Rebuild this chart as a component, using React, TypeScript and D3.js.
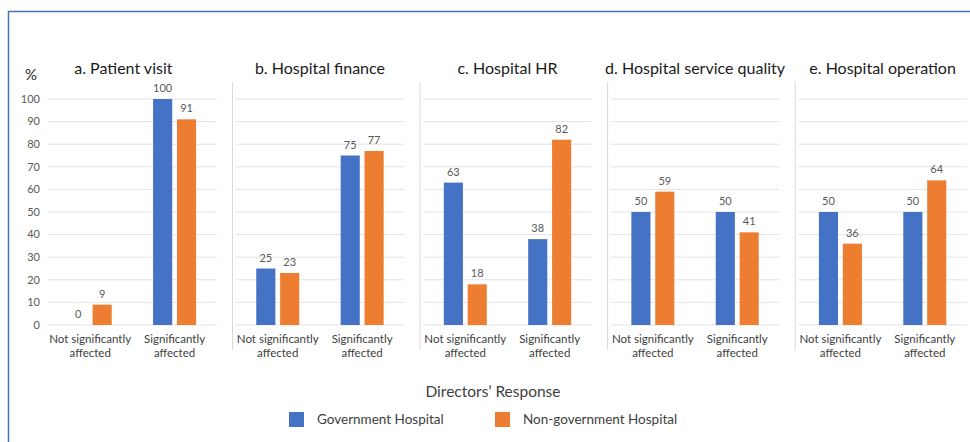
import React from "react";
import * as d3 from "d3";

const width = 970,
  height = 442;

const panels = [
  "a. Patient visit",
  "b. Hospital finance",
  "c. Hospital HR",
  "d. Hospital service quality",
  "e. Hospital operation",
];
const categories = ["Not significantly affected", "Significantly affected"];
const categoryLines = [
  ["Not significantly", "affected"],
  ["Significantly", "affected"],
];
const seriesNames = ["Government Hospital", "Non-government Hospital"];
// values per panel: [not significantly, significantly]
const government = [
  [0, 100],
  [25, 75],
  [63, 38],
  [50, 50],
  [50, 50],
];
const nonGovernment = [
  [9, 91],
  [23, 77],
  [18, 82],
  [59, 41],
  [36, 64],
];
const yTicks = [0, 10, 20, 30, 40, 50, 60, 70, 80, 90, 100];

const colors = ["#4472C4", "#ED7D31"];
const font = "Lato, 'Open Sans', sans-serif";

const App = () => {
  const panelX = d3.scaleBand().domain(panels).range([48, 967]).paddingInner(0.1);
  const y = d3.scaleLinear().domain([0, 100]).range([325, 99]);
  const x0 = d3.scaleBand().domain(categories).range([0, panelX.bandwidth()]);
  const groupW = 43;
  const x1 = d3.scaleBand().domain(seriesNames).range([0, groupW]).paddingInner(0.2);

  return (
    <svg
      width={width}
      height={height}
      style={{ position: "absolute", left: 0, top: 0, background: "#fff" }}
      fontFamily={font}
    >
      <path d="M8.5,442 V11.5 H970" fill="none" stroke="#4472C4" strokeWidth={1.5} />

      {/* y axis */}
      <text x={31} y={80} textAnchor="middle" fontSize={15} fill="#262626">%</text>
      {yTicks.map((t) => (
        <text key={t} x={40} y={y(t)} dy="0.35em" textAnchor="end" fontSize={11} fill="#595959">
          {t}
        </text>
      ))}

      {panels.map((p, i) => {
        const px = panelX(p);
        const pw = panelX.bandwidth();
        return (
          <g key={p}>
            {i > 0 && (
              <line x1={px - 3} x2={px - 3} y1={82} y2={350} stroke="#d9d9d9" />
            )}
            {yTicks.map((t) => (
              <line key={t} x1={px} x2={px + pw} y1={y(t)} y2={y(t)} stroke="#e3e3e3" />
            ))}
            <text
              x={px + pw / 2 - (i === 0 ? 9 : 0)}
              y={74}
              textAnchor="middle"
              fontSize={16}
              fill="#1a1a1a"
            >
              {p}
            </text>
            {categories.map((c, ci) => {
              const cx = px + x0(c) + x0.bandwidth() / 2;
              const vals = [government[i][ci], nonGovernment[i][ci]];
              return (
                <g key={c}>
                  {vals.map((v, si) => {
                    const bx = cx - groupW / 2 + x1(seriesNames[si]);
                    return (
                      <g key={si}>
                        <rect
                          x={bx}
                          y={y(v)}
                          width={x1.bandwidth()}
                          height={y(0) - y(v)}
                          fill={colors[si]}
                        />
                        <text
                          x={bx + x1.bandwidth() / 2}
                          y={y(v) - 7}
                          textAnchor="middle"
                          fontSize={11}
                          fill="#595959"
                        >
                          {v}
                        </text>
                      </g>
                    );
                  })}
                  {categoryLines[ci].map((l, li) => (
                    <text
                      key={li}
                      x={cx}
                      y={343 + li * 13.5}
                      textAnchor="middle"
                      fontSize={11.5}
                      fill="#404040"
                    >
                      {l}
                    </text>
                  ))}
                </g>
              );
            })}
          </g>
        );
      })}

      <text x={493} y={397} textAnchor="middle" fontSize={15.5} fill="#404040">
        Directors’ Response
      </text>

      {seriesNames.map((s, si) => {
        const lx = [289, 495][si];
        return (
          <g key={s}>
            <rect x={lx} y={412} width={15} height={15} fill={colors[si]} />
            <text x={lx + 28} y={424} fontSize={13.5} fill="#404040">
              {s}
            </text>
          </g>
        );
      })}
    </svg>
  );
};

export default App;
